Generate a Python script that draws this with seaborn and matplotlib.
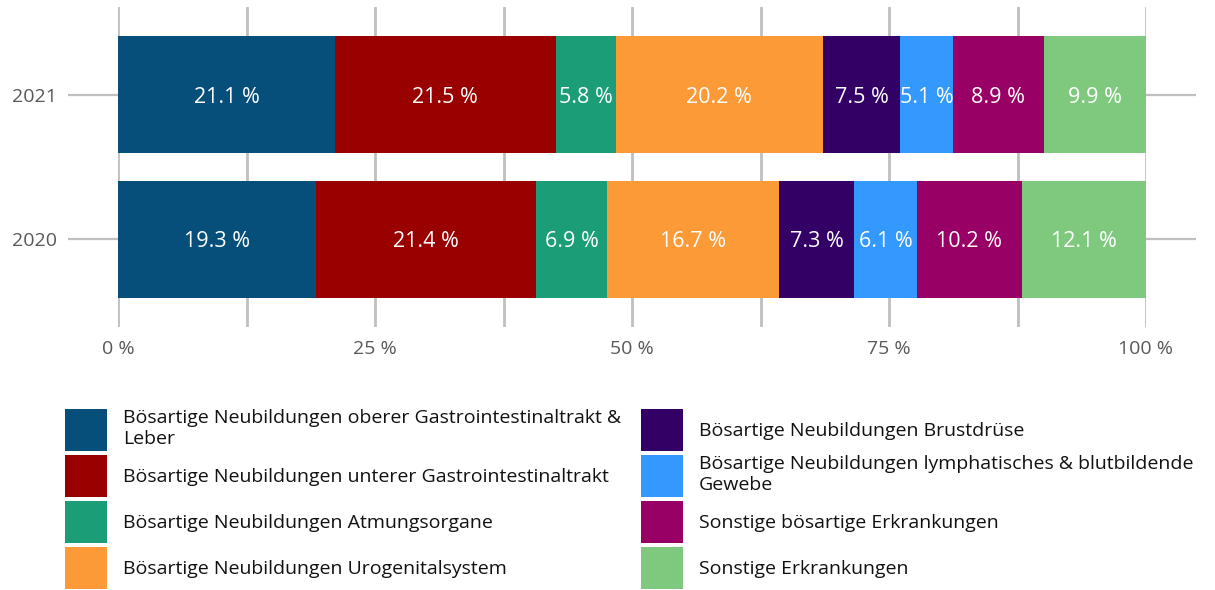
import matplotlib
matplotlib.use('Agg')
import matplotlib.pyplot as plt
import seaborn as sns
import pandas as pd
from matplotlib.patches import Patch
from matplotlib.ticker import MultipleLocator, FuncFormatter

# Goal: share of cancer/other diagnoses per year as 100 % stacked bars

years = ["2021", "2020"]
categories = [
    "Bösartige Neubildungen oberer Gastrointestinaltrakt &\nLeber",
    "Bösartige Neubildungen unterer Gastrointestinaltrakt",
    "Bösartige Neubildungen Atmungsorgane",
    "Bösartige Neubildungen Urogenitalsystem",
    "Bösartige Neubildungen Brustdrüse",
    "Bösartige Neubildungen lymphatisches & blutbildende\nGewebe",
    "Sonstige bösartige Erkrankungen",
    "Sonstige Erkrankungen",
]
values_2021 = [21.1, 21.5, 5.8, 20.2, 7.5, 5.1, 8.9, 9.9]
values_2020 = [19.3, 21.4, 6.9, 16.7, 7.3, 6.1, 10.2, 12.1]
colors = ["#064f7a", "#990000", "#1b9e77", "#fd9a38",
          "#330066", "#3399ff", "#990066", "#7fc97f"]

GRID = "#bfbfbf"
TXT = "#595959"
FS = 14

sns.set_style("white")
plt.rcParams['font.family'] = ['Open Sans', 'DejaVu Sans']

df = pd.DataFrame({
    "year": [y for y in years for _ in categories],
    "category": categories * len(years),
    "value": values_2021 + values_2020,
})
df["cum"] = df.groupby("year")["value"].cumsum()
df["mid"] = df["cum"] - df["value"] / 2

fig = plt.figure(figsize=(12.15, 5.9), dpi=100)
ax = fig.add_axes([118 / 1215, 1 - 327 / 590, (1146 - 118) / 1215, (327 - 7) / 590])

# overlay cumulative bars, longest first, to get the stacked look
for i in reversed(range(len(categories))):
    part = df[df["category"] == categories[i]]
    sns.barplot(data=part, x="cum", y="year", order=years, orient="h",
                color=colors[i], width=0.81, saturation=1, linewidth=0, ax=ax)

for _, row in df.iterrows():
    ax.text(row["mid"], years.index(row["year"]), f"{row['value']:.1f} %",
            ha="center", va="center_baseline", color="white", fontsize=15.5)

ax.set_xlim(0, 100)
ax.set_ylim(1.605, -0.605)
ax.xaxis.set_major_locator(MultipleLocator(25))
ax.xaxis.set_minor_locator(MultipleLocator(12.5))
ax.xaxis.set_major_formatter(FuncFormatter(lambda v, p: f"{v:.0f} %"))
ax.grid(axis="x", which="both", color=GRID, linewidth=2)
ax.set_axisbelow(True)
for s in ax.spines.values():
    s.set_visible(False)

ax.tick_params(axis="x", which="both", length=0, pad=9, labelsize=FS, labelcolor=TXT)
ax.tick_params(axis="y", length=36, width=1.6, color=GRID, direction="out",
               left=True, right=True, pad=8, labelsize=FS, labelcolor=TXT)
ax.set_xlabel("")
ax.set_ylabel("")

handles = [Patch(facecolor=c, edgecolor="none") for c in colors]
leg_kw = dict(loc="upper left", frameon=False, fontsize=FS, borderaxespad=0,
              borderpad=0, handlelength=2.16, handleheight=2.95,
              handletextpad=0.82, labelspacing=0.2, labelcolor="#111111")
fig.legend(handles[:4], categories[:4], bbox_to_anchor=(65 / 1215, 1 - 409 / 590), **leg_kw)
fig.legend(handles[4:], categories[4:], bbox_to_anchor=(641 / 1215, 1 - 409 / 590), **leg_kw)

fig.savefig("out.png", dpi=100)
